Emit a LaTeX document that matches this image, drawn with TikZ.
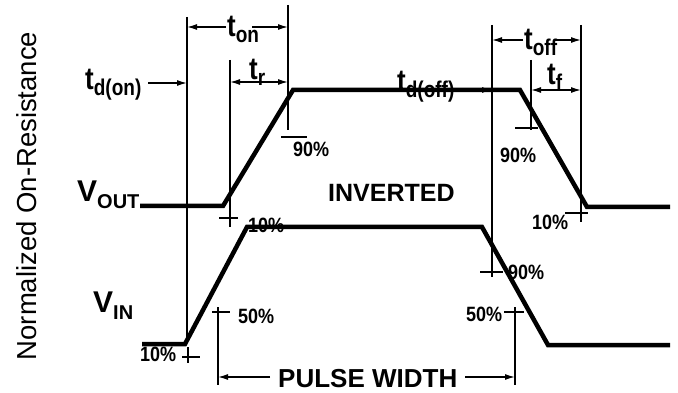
\documentclass[tikz,border=0pt]{standalone}
\usepackage{fontspec}
\setmainfont{Liberation Sans}
\usetikzlibrary{arrows.meta}
\newcommand\setfs[1]{\fontsize{#1}{#1}\selectfont}
\newcommand\tlab[1]{\scalebox{1}[1.2]{\bfseries\setfs{26}t\raisebox{-5pt}{\setfs{19}#1}}}
\newcommand\vlab[1]{{\bfseries\setfs{30}V\raisebox{-7pt}{\setfs{20}#1}}}
\newcommand\pc[1]{\scalebox{1}[1.15]{#1\%}}

\begin{document}
\begin{tikzpicture}[x=1pt,y=-1pt,
  wave/.style={line width=4.5pt},
  guide/.style={line width=1.3pt},
  dim/.style={guide,-{Latex[length=10pt,width=6pt]}},
  dimb/.style={guide,{Latex[length=10pt,width=6pt]}-{Latex[length=10pt,width=6pt]}},
  pct/.style={font=\bfseries\setfs{18},inner sep=0pt,anchor=west},
  tl/.style={inner sep=0pt,anchor=base west}]
\useasboundingbox (0,0) rectangle (678,393);
% guide lines: x/top/bottom
\foreach \x/\t/\b in {187/17/343,230/60/227,288/5/130,492/25/277,531/60/130,581/25/222,218/307/385,515/307/385}
   \draw[guide] (\x,\t) -- (\x,\b);
% level ticks: y/left/right
\foreach \y/\l/\r in {218/219/238,137/281/307,272/480/503,128/515/538,213/565/588,312/212/230,312/504/524,357/182/200}
   \draw[guide] (\l,\y) -- (\r,\y);
\draw[guide] (188,347) -- (188,363);
% timing arrows
\coordinate (don0) at (148,83);  \coordinate (don1) at (187,83);
\coordinate (ton0) at (226,27);  \coordinate (ton1) at (187,27);
\coordinate (ton2) at (252,27);  \coordinate (ton3) at (288,27);
\coordinate (tr0) at (230,82);   \coordinate (tr1) at (288,82);
\coordinate (doff0) at (455,90); \coordinate (doff1) at (492,90);
\coordinate (toff0) at (523,40); \coordinate (toff1) at (492,40);
\coordinate (toff2) at (555,40); \coordinate (toff3) at (581,40);
\coordinate (tf0) at (531,90);   \coordinate (tf1) at (581,90);
\coordinate (pw0) at (270,377);  \coordinate (pw1) at (218,377);
\coordinate (pw2) at (465,377);  \coordinate (pw3) at (515,377);
\draw[dim] (don0) -- (don1);
\draw[dim] (ton0) -- (ton1);
\draw[dim] (ton2) -- (ton3);
\draw[dimb] (tr0) -- (tr1);
\draw[dim] (doff0) -- (doff1);
\draw[dim] (toff0) -- (toff1);
\draw[dim] (toff2) -- (toff3);
\draw[dimb] (tf0) -- (tf1);
\draw[dim] (pw0) -- (pw1);
\draw[dim] (pw2) -- (pw3);
% waveforms
\coordinate (o0) at (140,206); \coordinate (o1) at (223,206);
\coordinate (o2) at (293,90);  \coordinate (o3) at (520,90);
\coordinate (o4) at (587,207); \coordinate (o5) at (670,207);
\coordinate (i0) at (142,344); \coordinate (i1) at (185,344);
\coordinate (i2) at (247,227); \coordinate (i3) at (482,227);
\coordinate (i4) at (548,345); \coordinate (i5) at (670,345);
\draw[wave] (o0) -- (o1) -- (o2) -- (o3) -- (o4) -- (o5);
\draw[wave] (i0) -- (i1) -- (i2) -- (i3) -- (i4) -- (i5);
% labels
\node[tl] (vout) at (77,202) {\vlab{OUT}};
\node[tl] (vin) at (93,312) {\vlab{IN}};
\node[tl] (tdon) at (85,90) {\tlab{d(on)}};
\node[tl] (ton) at (227,37) {\tlab{on}};
\node[tl] (tr) at (249,80) {\tlab{r}};
\node[tl] (tdoff) at (397,92) {\tlab{d(off)}};
\node[tl] (toff) at (524,50) {\tlab{off}};
\node[tl] (tf) at (547,85) {\tlab{f}};
\node[tl,font=\bfseries\setfs{25}] (inv) at (328,202) {INVERTED};
\node[tl,font=\bfseries\setfs{26}] (pw) at (278,387) {PULSE WIDTH};
\node[pct] (p1) at (293,149) {\pc{90}};
\node[pct] (p2) at (248,225) {\pc{10}};
\node[pct] (p3) at (500,155) {\pc{90}};
\node[pct] (p4) at (532,222) {\pc{10}};
\node[pct] (p5) at (140,354) {\pc{10}};
\node[pct] (p6) at (238,316) {\pc{50}};
\node[pct] (p7) at (508,272) {\pc{90}};
\node[pct] (p8) at (466,314) {\pc{50}};
\node[rotate=90,font=\setfs{27.5},inner sep=0pt] (ylab) at (27,196) {Normalized On-Resistance};
\end{tikzpicture}
\end{document}
